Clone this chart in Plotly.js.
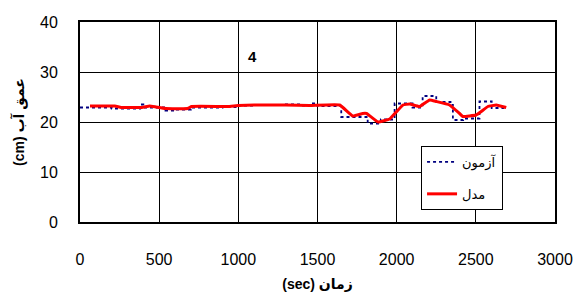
<!DOCTYPE html>
<html>
<head>
<meta charset="utf-8">
<script src="https://cdn.plot.ly/plotly-3.0.1.min.js"></script>
<style>html,body{margin:0;padding:0;background:#fff;}#chart{width:582px;height:297px;}</style>
</head>
<body>
<div id="chart"></div>
<script>
// Observed (آزمون) – step data
var obsTime = [0, 200, 380, 400, 540, 600, 700, 900, 1000, 1100, 1300, 1400, 1450, 1500, 1650, 1817, 1900, 1987, 2100, 2164, 2250, 2340, 2355, 2420, 2523, 2600, 2680];
var obsDepth = [22.9, 22.7, 23.5, 22.9, 22.3, 22.5, 22.9, 23.0, 23.3, 23.4, 23.5, 23.3, 23.7, 23.2, 21.0, 19.7, 20.5, 23.7, 22.9, 25.2, 24.0, 23.4, 20.4, 20.7, 24.1, 22.8, 22.8];
// Model (مدل)
var modTime = [63, 220, 260, 390, 440, 480, 540, 680, 705, 930, 1000, 1100, 1300, 1450, 1640, 1723, 1785, 1810, 1882, 1956, 2000, 2040, 2082, 2145, 2208, 2250, 2334, 2397, 2418, 2502, 2534, 2576, 2629, 2692];
var modDepth = [23.2, 23.2, 22.9, 22.9, 23.2, 23.0, 22.7, 22.7, 23.1, 23.1, 23.3, 23.4, 23.4, 23.3, 23.4, 21.2, 21.7, 21.7, 20.0, 20.6, 22.1, 23.4, 23.6, 23.1, 24.4, 24.1, 23.4, 21.7, 21.1, 21.4, 22.1, 23.1, 23.4, 22.9];
var xTicks = [0, 500, 1000, 1500, 2000, 2500, 3000];
var yTicks = [0, 10, 20, 30, 40];
var names = ['آزمون', 'مدل'];
var panelLabel = '4';

var font = 'Arial, "Liberation Sans", "DejaVu Sans", sans-serif';
var traces = [
  {x: obsTime, y: obsDepth, type: 'scatter', mode: 'lines', name: names[0], legendgroup: 'a',
   line: {color: '#000080', width: 1.8, dash: 'dot', shape: 'hv'}},
  {x: modTime, y: modDepth, type: 'scatter', mode: 'lines', name: names[1], legendgroup: 'b',
   line: {color: '#ff0000', width: 3, shape: 'spline', smoothing: 0.3}}
];
var layout = {
  width: 582, height: 297,
  margin: {l: 80, r: 27, t: 22, b: 75},
  paper_bgcolor: '#fff', plot_bgcolor: '#fff',
  font: {family: font, color: '#000', size: 16},
  showlegend: true,
  legend: {x: 0.718, y: 0.38, xanchor: 'left', yanchor: 'top', bgcolor: '#fff',
    bordercolor: '#000', borderwidth: 1, font: {size: 13, family: font},
    traceorder: 'grouped', tracegroupgap: 12},
  xaxis: {range: [0, 3000], tickvals: xTicks, ticktext: xTicks.map(String), showgrid: true,
    gridcolor: '#000', gridwidth: 1, showline: true, linecolor: '#000', linewidth: 2, mirror: true,
    zeroline: false, ticks: '', ticklabelstandoff: 22, tickfont: {size: 16},
    title: {text: '<b>(sec) زمان</b>', font: {size: 14}, standoff: 12}},
  yaxis: {range: [0, 40], tickvals: yTicks, ticktext: yTicks.map(String), showgrid: true,
    gridcolor: '#000', gridwidth: 1, showline: true, linecolor: '#000', linewidth: 2, mirror: true,
    zeroline: false, ticks: '', ticklabelstandoff: 17, tickfont: {size: 16},
    title: {text: '<b>(cm) عمق آب</b>', font: {size: 14}, standoff: 12}},
  annotations: [{x: 1091, y: 33.2, xref: 'x', yref: 'y', text: '<b>' + panelLabel + '</b>', showarrow: false,
    font: {size: 15}}]
};
Plotly.newPlot('chart', traces, layout, {displayModeBar: false, staticPlot: true});
</script>
</body>
</html>
